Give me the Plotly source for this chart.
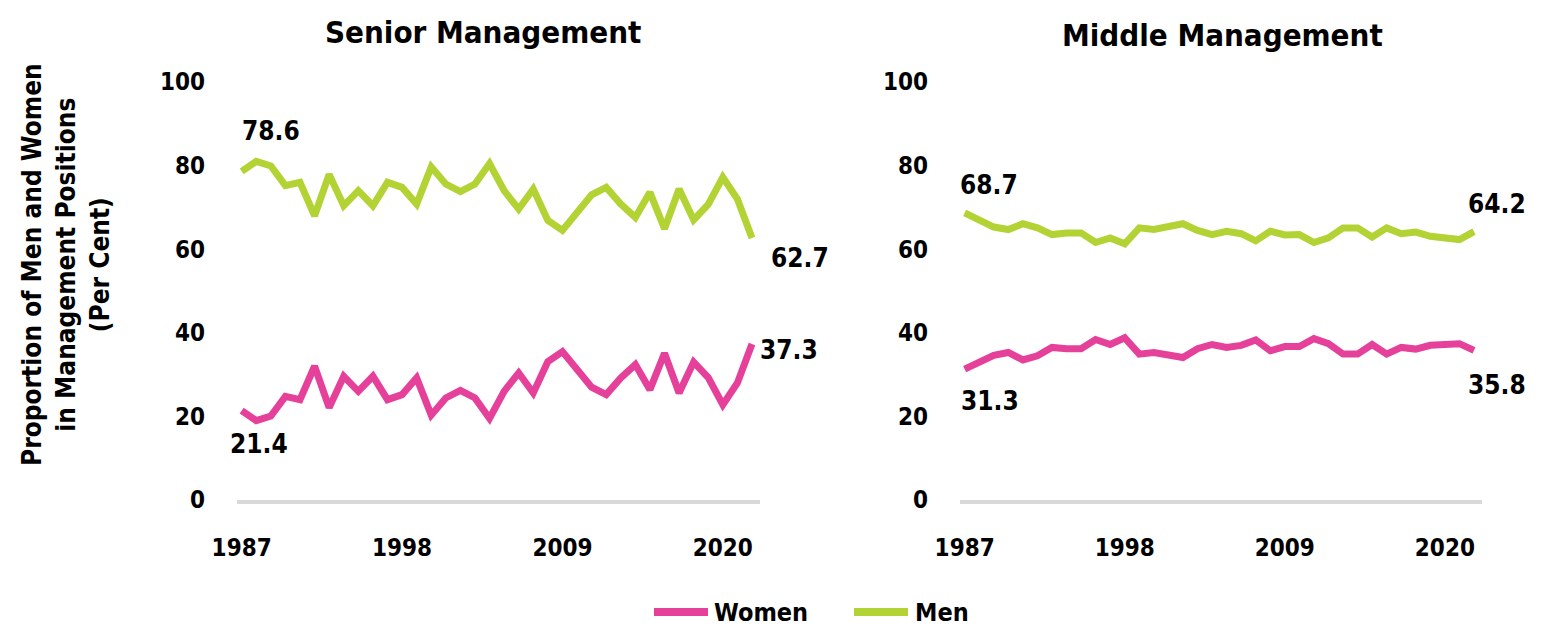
import plotly.graph_objects as go

years = list(range(1987, 2023))

senior_men = [78.6, 81.0, 79.9, 75.2, 76.0, 68.0, 77.9, 70.4, 74.0, 70.4,
              76.0, 74.8, 70.8, 79.7, 75.6, 73.8, 75.6, 80.5, 74.0, 69.6,
              74.4, 66.9, 64.5, 68.8, 73.0, 74.8, 70.8, 67.6, 73.6, 64.9,
              74.4, 67.0, 70.7, 77.2, 72.0, 62.7]
senior_women = [21.4, 19.0, 20.1, 24.8, 24.0, 32.0, 22.1, 29.6, 26.0, 29.6,
                24.0, 25.2, 29.2, 20.3, 24.4, 26.2, 24.4, 19.5, 26.0, 30.4,
                25.6, 33.1, 35.5, 31.2, 27.0, 25.2, 29.2, 32.4, 26.4, 35.1,
                25.6, 33.0, 29.3, 22.8, 28.0, 37.3]
middle_men = [68.7, 67.1, 65.3, 64.7, 66.1, 65.1, 63.5, 63.9, 63.9, 61.6,
              62.7, 61.3, 65.1, 64.7, 65.4, 66.1, 64.5, 63.5, 64.3, 63.7,
              62.0, 64.3, 63.4, 63.5, 61.6, 62.7, 65.1, 65.1, 62.9, 65.1,
              63.7, 64.1, 63.1, 62.7, 62.3, 64.2]
middle_women = [31.3, 32.9, 34.6, 35.3, 33.5, 34.5, 36.5, 36.2, 36.2, 38.4,
                37.2, 38.8, 34.9, 35.3, 34.7, 34.1, 36.2, 37.2, 36.5, 37.0,
                38.3, 35.7, 36.7, 36.7, 38.6, 37.4, 34.9, 34.9, 37.2, 34.9,
                36.5, 36.1, 37.0, 37.2, 37.4, 35.8]

x_ticks = [1987, 1998, 2009, 2020]
y_ticks = [0, 20, 40, 60, 80, 100]
series_names = ["Women", "Men"]

PINK = "#E5409A"
GREEN = "#B3D335"
FONT = "DejaVu Sans Condensed, Liberation Sans Narrow, sans-serif"

W, H = 1541, 626
OFF = 8  # page body margin offset
def px(x):
    return (x - OFF) / W
def py(y):
    return 1 - (y - OFF) / H

fig = go.Figure()

def add_series(xa, ya, y, name, color):
    fig.add_trace(go.Scatter(x=years, y=y, mode="lines", name=name,
                             line=dict(color=color, width=7),
                             xaxis=xa, yaxis=ya, showlegend=False))

add_series("x", "y", senior_women, series_names[0], PINK)
add_series("x", "y", senior_men, series_names[1], GREEN)
add_series("x2", "y2", middle_women, series_names[0], PINK)
add_series("x2", "y2", middle_men, series_names[1], GREEN)

tickfont = dict(family=FONT, size=24, color="#000000", weight="bold")
xcommon = dict(range=[1986.68, 2022.55], tickvals=x_ticks, showgrid=False,
               showline=True, linecolor="#D9D9D9", linewidth=4,
               ticks="", ticklabelstandoff=23, tickfont=tickfont,
               zeroline=False, automargin=False, fixedrange=True)
ycommon = dict(range=[0, 100], tickvals=y_ticks, showgrid=False,
               showline=False, zeroline=False, ticks="",
               ticklabelstandoff=31, tickfont=tickfont, automargin=False,
               domain=[py(500), py(82)], fixedrange=True)

fig.update_layout(
    width=W, height=H,
    margin=dict(l=0, r=0, t=0, b=0, autoexpand=False),
    plot_bgcolor="white", paper_bgcolor="white",
    font=dict(family=FONT, color="#000000"),
    xaxis=dict(domain=[px(237), px(760)], anchor="y", **xcommon),
    yaxis=dict(anchor="x", **ycommon),
    xaxis2=dict(domain=[px(960), px(1482)], anchor="y2", **xcommon),
    yaxis2=dict(anchor="x2", **ycommon),
    showlegend=False,
)

fig.add_annotation(text="Senior Management", x=px(483), y=py(32),
                   xref="paper", yref="paper", xanchor="center",
                   yanchor="middle", showarrow=False,
                   font=dict(family=FONT, size=31, color="#000000", weight="bold"))
fig.add_annotation(text="Middle Management", x=px(1222), y=py(35),
                   xref="paper", yref="paper", xanchor="center",
                   yanchor="middle", showarrow=False,
                   font=dict(family=FONT, size=31, color="#000000", weight="bold"))

fig.add_annotation(text="Proportion of Men and Women<br>in Management Positions<br>(Per Cent)",
                   x=px(66), y=py(265), xref="paper", yref="paper",
                   xanchor="center", yanchor="middle",
                   showarrow=False, textangle=-90,
                   font=dict(family=FONT, size=26, color="#000000", weight="bold"))

ann_font = dict(family=FONT, size=26, color="#000000", weight="bold")
labels = [
    ("x", "y", years[0], senior_men[0], 29, -40, senior_men[0]),
    ("x", "y", years[0], senior_women[0], 17, 33, senior_women[0]),
    ("x", "y", years[-1], senior_men[-1], 48, 20, senior_men[-1]),
    ("x", "y", years[-1], senior_women[-1], 37, 6, senior_women[-1]),
    ("x2", "y2", years[0], middle_men[0], 24, -28, middle_men[0]),
    ("x2", "y2", years[0], middle_women[0], 25, 32, middle_women[0]),
    ("x2", "y2", years[-1], middle_men[-1], 23, -28, middle_men[-1]),
    ("x2", "y2", years[-1], middle_women[-1], 23, 35, middle_women[-1]),
]
for xa, ya, xv, yv, ax, ay, v in labels:
    fig.add_annotation(x=xv, y=yv, xref=xa, yref=ya, text="%.1f" % v,
                       showarrow=True, arrowcolor="rgba(0,0,0,0)", ax=ax, ay=ay,
                       font=ann_font)

# legend drawn manually (line swatch + label) to match the original layout
legend_items = [(series_names[0], PINK, 654, 712), (series_names[1], GREEN, 854, 913)]
for name, color, x0, xt in legend_items:
    fig.add_shape(type="line", xref="paper", yref="paper",
                  x0=px(x0), x1=px(x0 + 54), y0=py(612), y1=py(612),
                  line=dict(color=color, width=8))
    fig.add_annotation(text=name, x=px(xt), y=py(612), xref="paper",
                       yref="paper", xanchor="left", yanchor="middle",
                       showarrow=False,
                       font=dict(family=FONT, size=25, color="#000000", weight="bold"))

fig.write_html("out.html")
